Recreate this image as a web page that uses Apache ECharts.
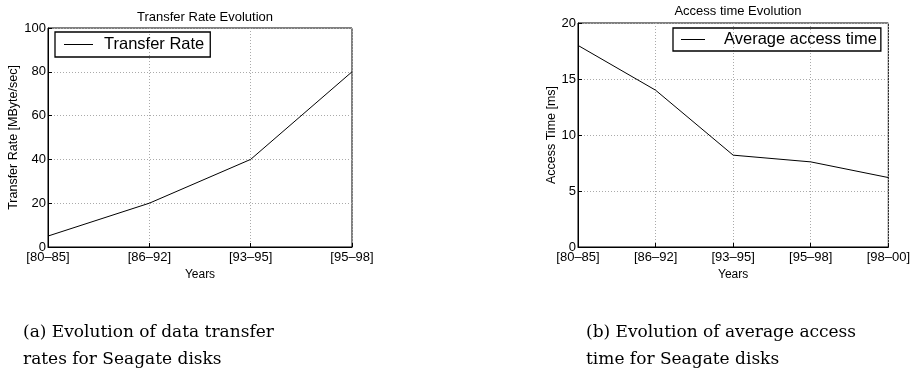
<!DOCTYPE html>
<html>
<head>
<meta charset="utf-8">
<script src="https://cdn.jsdelivr.net/npm/echarts@6/dist/echarts.min.js"></script>
<style>
  html, body { margin: 0; padding: 0; background: #fff; }
  #chart { width: 913px; height: 372px; }
</style>
</head>
<body>
<div id="chart"></div>
<script>
var transferYears = ['[80\u201385]', '[86\u201392]', '[93\u201395]', '[95\u201398]'];
var transferRate = [5, 20, 40, 80];
var transferTicks = [0, 20, 40, 60, 80, 100];

var accessYears = ['[80\u201385]', '[86\u201392]', '[93\u201395]', '[95\u201398]', '[98\u201300]'];
var accessTime = [18, 14, 8.2, 7.6, 6.2];
var accessTicks = [0, 5, 10, 15, 20];

var myChart = echarts.init(document.getElementById('chart'));

var font = 'Liberation Sans, Arial, sans-serif';
var serif = 'DejaVu Serif, Liberation Serif, serif';

function xAxisFor(idx, data) {
  return {
    gridIndex: idx,
    type: 'category',
    data: data,
    boundaryGap: false,
    name: 'Years',
    nameLocation: 'middle',
    nameGap: 13,
    nameTextStyle: { color: '#000', fontSize: 12, fontFamily: font },
    axisLine: { lineStyle: { color: '#000', width: 1 } },
    axisTick: { inside: true, length: 4, lineStyle: { color: '#000' } },
    axisLabel: { color: '#000', fontSize: 13, fontFamily: font, margin: 4 },
    splitLine: { show: true, lineStyle: { color: '#aaa', type: [1, 2] } }
  };
}

function yAxisFor(idx, ticks, name, gap) {
  return {
    gridIndex: idx,
    type: 'value',
    min: ticks[0],
    max: ticks[ticks.length - 1],
    interval: ticks[1] - ticks[0],
    name: name,
    nameLocation: 'middle',
    nameGap: gap,
    nameTextStyle: { color: '#000', fontSize: 12.5, fontFamily: font },
    axisLine: { show: true, lineStyle: { color: '#000', width: 1 } },
    axisTick: { show: true, inside: true, length: 4, lineStyle: { color: '#000' } },
    axisLabel: { color: '#000', fontSize: 13, fontFamily: font, margin: 2 },
    splitLine: { show: true, lineStyle: { color: '#aaa', type: [1, 2] } }
  };
}

myChart.setOption({
  animation: false,
  backgroundColor: '#fff',
  title: [
    {
      text: 'Transfer Rate Evolution',
      left: 200, top: 6, textAlign: 'center',
      textStyle: { fontSize: 13, fontWeight: 'normal', color: '#000', fontFamily: font }
    },
    {
      text: 'Access time Evolution',
      left: 733, top: 0, textAlign: 'center',
      textStyle: { fontSize: 13, fontWeight: 'normal', color: '#000', fontFamily: font }
    },
    {
      text: '(a) Evolution of data transfer\nrates for Seagate disks',
      left: 18, top: 314,
      textStyle: { fontSize: 17, fontWeight: 'normal', color: '#000', fontFamily: serif, lineHeight: 27 }
    },
    {
      text: '(b) Evolution of average access\ntime for Seagate disks',
      left: 581, top: 314,
      textStyle: { fontSize: 17, fontWeight: 'normal', color: '#000', fontFamily: serif, lineHeight: 27 }
    }
  ],
  legend: [
    {
      data: ['Transfer Rate'],
      left: 55, top: 32,
      orient: 'vertical',
      icon: 'rect',
      borderColor: '#000', borderWidth: 1.3, borderRadius: 0,
      padding: [4, 6, 4, 9],
      itemWidth: 29, itemHeight: 1, itemGap: 0,
      textStyle: { fontSize: 16.5, color: '#000', fontFamily: font, padding: [0, 0, 0, 6] }
    },
    {
      data: ['Average access time'],
      left: 673, top: 28,
      orient: 'vertical',
      icon: 'rect',
      borderColor: '#000', borderWidth: 1.3, borderRadius: 0,
      padding: [3, 4, 3, 8],
      itemWidth: 24, itemHeight: 1, itemGap: 0,
      textStyle: { fontSize: 16.5, color: '#000', fontFamily: font, padding: [0, 0, 0, 14] }
    }
  ],
  grid: [
    { left: 48, top: 28, width: 304, height: 219, show: true, borderColor: '#000', borderWidth: 1, backgroundColor: 'transparent' },
    { left: 578, top: 23, width: 311, height: 224, show: true, borderColor: '#000', borderWidth: 1, backgroundColor: 'transparent' }
  ],
  xAxis: [xAxisFor(0, transferYears), xAxisFor(1, accessYears)],
  yAxis: [
    yAxisFor(0, transferTicks, 'Transfer Rate [MByte/sec]', 26),
    yAxisFor(1, accessTicks, 'Access Time [ms]', 19)
  ],
  series: [
    {
      name: 'Transfer Rate',
      type: 'line',
      xAxisIndex: 0, yAxisIndex: 0,
      symbol: 'none',
      lineStyle: { color: '#000', width: 1 },
      itemStyle: { color: '#000' },
      data: transferRate
    },
    {
      name: 'Average access time',
      type: 'line',
      xAxisIndex: 1, yAxisIndex: 1,
      symbol: 'none',
      lineStyle: { color: '#000', width: 1 },
      itemStyle: { color: '#000' },
      data: accessTime
    }
  ]
});
</script>
</body>
</html>
